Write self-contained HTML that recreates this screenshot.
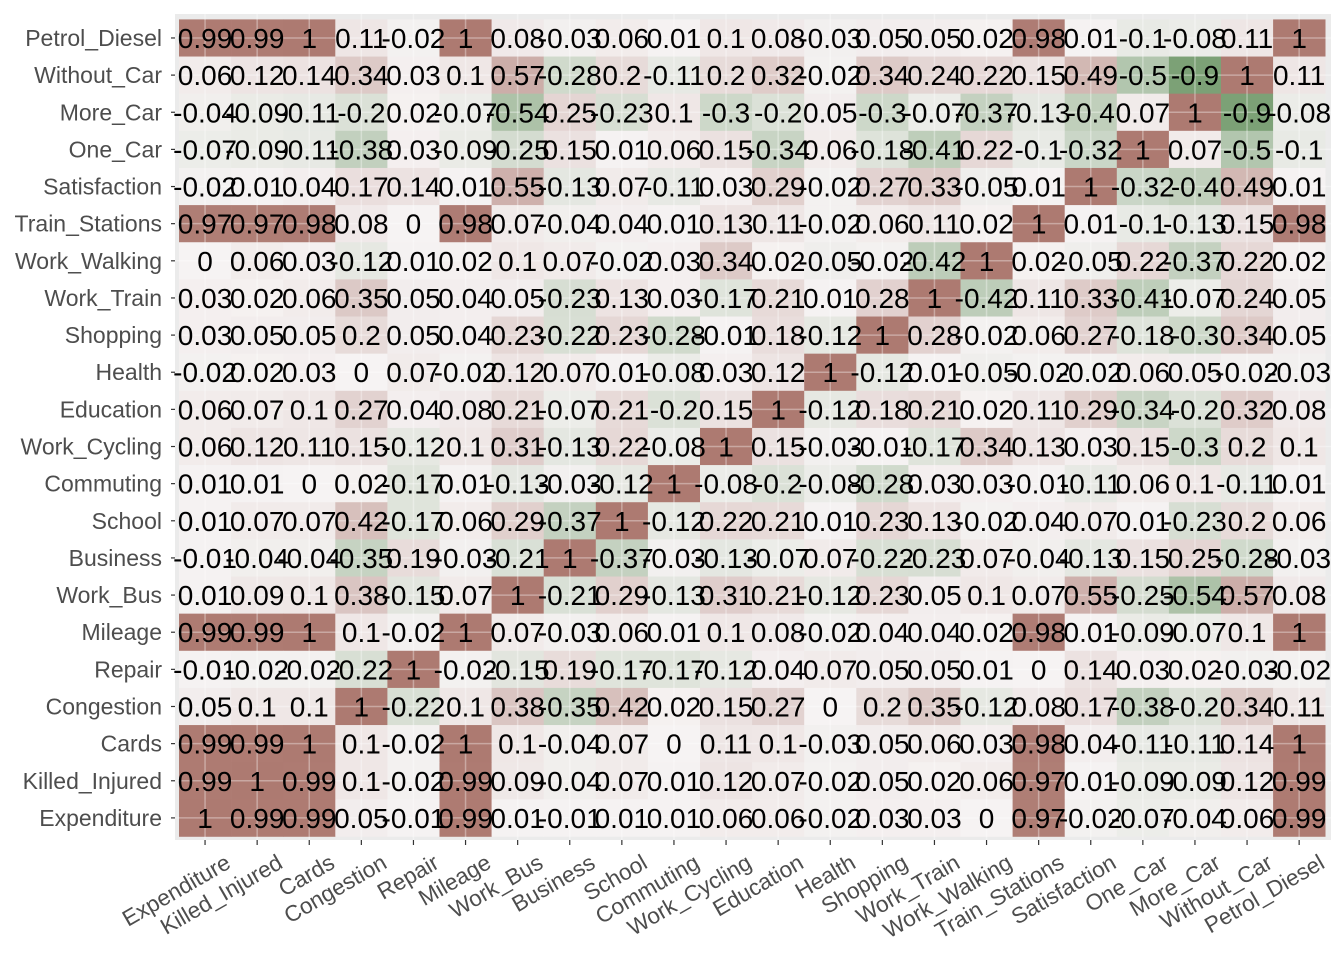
<!DOCTYPE html>
<html><head><meta charset="utf-8"><style>
body{margin:0;background:#fff;}
svg{display:block;font-family:"Liberation Sans",Arial,sans-serif;}
</style></head><body>
<svg id="chart" width="1344" height="960"></svg>
<script>
const categories=["Expenditure","Killed_Injured","Cards","Congestion","Repair","Mileage","Work_Bus","Business","School","Commuting","Work_Cycling","Education","Health","Shopping","Work_Train","Work_Walking","Train_Stations","Satisfaction","One_Car","More_Car","Without_Car","Petrol_Diesel"];
// rows listed from top (Petrol_Diesel) to bottom (Expenditure); columns in categories order
const rowPetrolDiesel=[0.99,0.99,1,0.11,-0.02,1,0.08,-0.03,0.06,0.01,0.1,0.08,-0.03,0.05,0.05,0.02,0.98,0.01,-0.1,-0.08,0.11,1];
const rowWithoutCar=[0.06,0.12,0.14,0.34,0.03,0.1,0.57,-0.28,0.2,-0.11,0.2,0.32,-0.02,0.34,0.24,0.22,0.15,0.49,-0.5,-0.9,1,0.11];
const rowMoreCar=[-0.04,-0.09,-0.11,-0.2,0.02,-0.07,-0.54,0.25,-0.23,0.1,-0.3,-0.2,0.05,-0.3,-0.07,-0.37,-0.13,-0.4,0.07,1,-0.9,-0.08];
const rowOneCar=[-0.07,-0.09,-0.11,-0.38,0.03,-0.09,-0.25,0.15,0.01,0.06,0.15,-0.34,0.06,-0.18,-0.41,0.22,-0.1,-0.32,1,0.07,-0.5,-0.1];
const rowSatisfaction=[-0.02,0.01,0.04,0.17,0.14,0.01,0.55,-0.13,0.07,-0.11,0.03,0.29,-0.02,0.27,0.33,-0.05,0.01,1,-0.32,-0.4,0.49,0.01];
const rowTrainStations=[0.97,0.97,0.98,0.08,0,0.98,0.07,-0.04,0.04,0.01,0.13,0.11,-0.02,0.06,0.11,0.02,1,0.01,-0.1,-0.13,0.15,0.98];
const rowWorkWalking=[0,0.06,0.03,-0.12,0.01,0.02,0.1,0.07,-0.02,0.03,0.34,0.02,-0.05,-0.02,-0.42,1,0.02,-0.05,0.22,-0.37,0.22,0.02];
const rowWorkTrain=[0.03,0.02,0.06,0.35,0.05,0.04,0.05,-0.23,0.13,0.03,-0.17,0.21,0.01,0.28,1,-0.42,0.11,0.33,-0.41,-0.07,0.24,0.05];
const rowShopping=[0.03,0.05,0.05,0.2,0.05,0.04,0.23,-0.22,0.23,-0.28,-0.01,0.18,-0.12,1,0.28,-0.02,0.06,0.27,-0.18,-0.3,0.34,0.05];
const rowHealth=[-0.02,0.02,0.03,0,0.07,-0.02,0.12,0.07,0.01,-0.08,0.03,0.12,1,-0.12,0.01,-0.05,-0.02,-0.02,0.06,0.05,-0.02,-0.03];
const rowEducation=[0.06,0.07,0.1,0.27,0.04,0.08,0.21,-0.07,0.21,-0.2,0.15,1,-0.12,0.18,0.21,0.02,0.11,0.29,-0.34,-0.2,0.32,0.08];
const rowWorkCycling=[0.06,0.12,0.11,0.15,-0.12,0.1,0.31,-0.13,0.22,-0.08,1,0.15,-0.03,-0.01,-0.17,0.34,0.13,0.03,0.15,-0.3,0.2,0.1];
const rowCommuting=[0.01,0.01,0,0.02,-0.17,0.01,-0.13,-0.03,-0.12,1,-0.08,-0.2,-0.08,-0.28,0.03,0.03,-0.01,-0.11,0.06,0.1,-0.11,0.01];
const rowSchool=[0.01,0.07,0.07,0.42,-0.17,0.06,0.29,-0.37,1,-0.12,0.22,0.21,0.01,0.23,0.13,-0.02,0.04,0.07,0.01,-0.23,0.2,0.06];
const rowBusiness=[-0.01,-0.04,-0.04,-0.35,0.19,-0.03,-0.21,1,-0.37,-0.03,-0.13,-0.07,0.07,-0.22,-0.23,0.07,-0.04,-0.13,0.15,0.25,-0.28,-0.03];
const rowWorkBus=[0.01,0.09,0.1,0.38,-0.15,0.07,1,-0.21,0.29,-0.13,0.31,0.21,-0.12,0.23,0.05,0.1,0.07,0.55,-0.25,-0.54,0.57,0.08];
const rowMileage=[0.99,0.99,1,0.1,-0.02,1,0.07,-0.03,0.06,0.01,0.1,0.08,-0.02,0.04,0.04,0.02,0.98,0.01,-0.09,-0.07,0.1,1];
const rowRepair=[-0.01,-0.02,-0.02,-0.22,1,-0.02,-0.15,0.19,-0.17,-0.17,-0.12,0.04,0.07,0.05,0.05,0.01,0,0.14,0.03,0.02,-0.03,-0.02];
const rowCongestion=[0.05,0.1,0.1,1,-0.22,0.1,0.38,-0.35,0.42,0.02,0.15,0.27,0,0.2,0.35,-0.12,0.08,0.17,-0.38,-0.2,0.34,0.11];
const rowCards=[0.99,0.99,1,0.1,-0.02,1,0.1,-0.04,0.07,0,0.11,0.1,-0.03,0.05,0.06,0.03,0.98,0.04,-0.11,-0.11,0.14,1];
const rowKilledInjured=[0.99,1,0.99,0.1,-0.02,0.99,0.09,-0.04,0.07,0.01,0.12,0.07,-0.02,0.05,0.02,0.06,0.97,0.01,-0.09,-0.09,0.12,0.99];
const rowExpenditure=[1,0.99,0.99,0.05,-0.01,0.99,0.01,-0.01,0.01,0.01,0.06,0.06,-0.02,0.03,0.03,0,0.97,-0.02,-0.07,-0.04,0.06,0.99];
const matrixRows=[rowPetrolDiesel,rowWithoutCar,rowMoreCar,rowOneCar,rowSatisfaction,rowTrainStations,rowWorkWalking,rowWorkTrain,rowShopping,rowHealth,rowEducation,rowWorkCycling,rowCommuting,rowSchool,rowBusiness,rowWorkBus,rowMileage,rowRepair,rowCongestion,rowCards,rowKilledInjured,rowExpenditure];
const rowLabels=categories.slice().reverse();

const NS="http://www.w3.org/2000/svg";
const svg=document.getElementById('chart');
function mk(tag,attrs){const e=document.createElementNS(NS,tag);for(const k in attrs)e.setAttribute(k,attrs[k]);svg.appendChild(e);return e;}
const X0=179,CW=52.1,Y0=19.4,RH=37.14;
const xScale=i=>X0+i*CW;
const yScale=r=>Y0+r*RH;
const n=categories.length;
function lerp(a,b,t){return a.map((v,i)=>Math.round(v+(b[i]-v)*t));}
const mid=[246,243,243],hi=[173,122,113],lo=[110,152,104];
function color(v){return v>=0?lerp(mid,hi,Math.min(1,v)):lerp(mid,lo,Math.min(1,-v));}

const panel=mk('rect',{x:175,y:14,width:1156,height:826,fill:'#EBEBEB'});



for(let r=0;r<n;r++){for(let c=0;c<n;c++){
  const v=matrixRows[r][c];const col=color(v);
  const t=mk('rect',{x:xScale(c),y:yScale(r),width:CW+0.3,height:RH+0.3,fill:`rgb(${col[0]},${col[1]},${col[2]})`});
  
  
}}
for(let i=0;i<n;i++){
  const gx=mk('line',{x1:xScale(i)+CW/2,x2:xScale(i)+CW/2,y1:14,y2:840,stroke:'#fff','stroke-opacity':0.35,'stroke-width':1.5});
  
  
  const gy=mk('line',{x1:175,x2:1331,y1:yScale(i)+RH/2,y2:yScale(i)+RH/2,stroke:'#fff','stroke-opacity':0.35,'stroke-width':1.5});
  
  
}
for(let r=0;r<n;r++){for(let c=0;c<n;c++){
  const v=matrixRows[r][c];
  const tx=mk('text',{x:xScale(c)+CW/2,y:yScale(r)+RH/2+10,'text-anchor':'middle','font-size':28,fill:'#000'});
  tx.textContent=String(v);
  
  
}}
for(let r=0;r<n;r++){
  const cy=yScale(r)+RH/2;
  const tk=mk('line',{x1:171,x2:175,y1:cy,y2:cy,stroke:'#333','stroke-width':1.2});
  
  
  const lb=mk('text',{x:162,y:cy+8,'text-anchor':'end','font-size':23,fill:'#4D4D4D'});
  lb.textContent=rowLabels[r];
  
  
}
for(let c=0;c<n;c++){
  const cx=xScale(c)+CW/2;
  const tk=mk('line',{x1:cx,x2:cx,y1:840,y2:845,stroke:'#333','stroke-width':1.2});
  
  
  const ax=cx+27,ay=867;
  const lb=mk('text',{x:ax,y:ay,'text-anchor':'end','font-size':22.5,fill:'#4D4D4D',transform:`rotate(-30 ${ax} ${ay})`});
  lb.textContent=categories[c];
  
  
}
</script>
</body></html>
